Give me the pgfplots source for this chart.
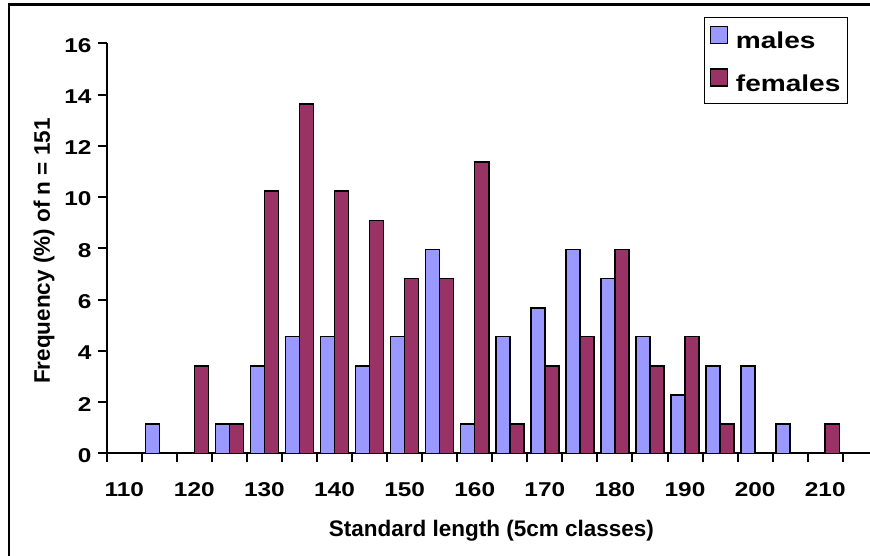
\documentclass[border=0pt]{standalone}
\usepackage{fontspec}
\setmainfont{Liberation Sans}
\newfontfamily\stfont{Liberation Sans}[FakeStretch=1.22]
\usepackage{pgfplots}
\pgfplotsset{compat=1.18}
\definecolor{males}{HTML}{9999FF}
\definecolor{females}{HTML}{993366}
\begin{document}
\begin{tikzpicture}
\path[use as bounding box] (0,0) rectangle (870pt,-556pt);
\draw[line width=2.5pt] (9pt,-560pt) -- (9pt,-4.3pt) -- (875pt,-4.3pt);
\begin{axis}[
  at={(106.7pt,-453.3pt)}, anchor=south west,
  scale only axis, width=763.3pt, height=410pt,
  xmin=-0.5, xmax=21.277, ymin=0, ymax=16,
  axis x line*=bottom, axis y line*=left,
  axis line style={line width=2.2pt, black},
  xtick={-0.5,0.5,...,20.5},
  xticklabels={110,,120,,130,,140,,150,,160,,170,,180,,190,,200,,210,},
  ytick={0,2,...,16},
  tick align=outside,
  major tick length=9pt,
  tick style={line width=2pt, black},
  /pgf/number format/assume math mode=true,
  ticklabel style={font=\stfont\bfseries\fontsize{20}{20}\selectfont},
  yticklabel style={anchor=east, inner sep=0pt, xshift=-6pt, yshift=-2pt},
  xticklabel style={anchor=base, inner sep=0pt, xshift=17.52pt, yshift=-34pt},
  xlabel={Standard length (5cm classes)},
  xlabel style={at={(axis description cs:0.504,-0.2034)}, anchor=base, font=\bfseries\fontsize{22.5}{22.5}\selectfont},
  ylabel={Frequency (\%) of n = 151},
  ylabel style={at={(axis description cs:-0.0743,0.4934)}, anchor=base, font=\bfseries\fontsize{22.5}{22.5}\selectfont},
  legend style={at={(0.7825,1.064)}, anchor=north west, draw=black, line width=1.3pt,
    font=\stfont\bfseries\fontsize{23}{23}\selectfont, inner xsep=5pt, inner ysep=8pt, row sep=16pt, column sep=6pt},
  legend cell align=left,
  legend image code/.code={\draw[#1,line width=1.3pt] (0pt,-2pt) rectangle (17pt,15pt);},
]
\addplot[ybar, bar width=0.4, bar shift=-0.2, fill=males, draw=black, line width=1.5pt] coordinates {
(1,1.14) (3,1.14) (4,3.41) (5,4.55) (6,4.55) (7,3.41) (8,4.55) (9,7.95) (10,1.14)
(11,4.55) (12,5.68) (13,7.95) (14,6.82) (15,4.55) (16,2.27) (17,3.41) (18,3.41) (19,1.14)};
\addlegendentry{males}
\addplot[ybar, bar width=0.4, bar shift=0.2, fill=females, draw=black, line width=1.5pt] coordinates {
(2,3.41) (3,1.14) (4,10.23) (5,13.64) (6,10.23) (7,9.09) (8,6.82) (9,6.82) (10,11.36)
(11,1.14) (12,3.41) (13,4.55) (14,7.95) (15,3.41) (16,4.55) (17,1.14) (20,1.14)};
\addlegendentry{females}
\end{axis}
\end{tikzpicture}
\end{document}
